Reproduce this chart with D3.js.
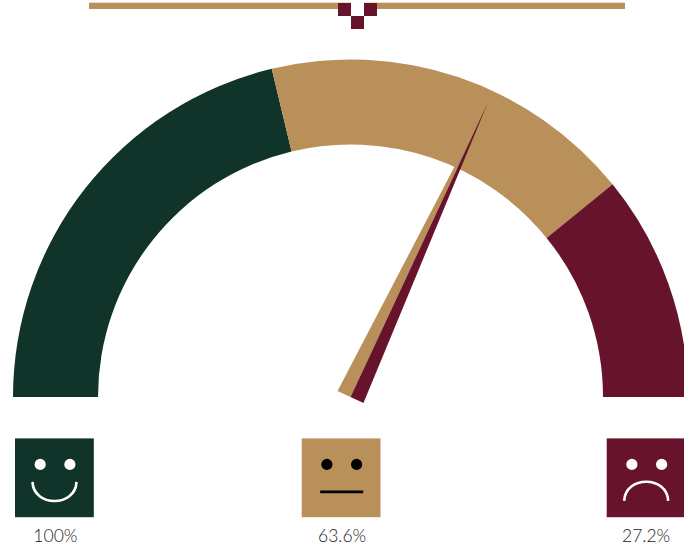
<!DOCTYPE html>
<html><head><meta charset="utf-8">
<script src="https://cdn.jsdelivr.net/npm/d3@7/dist/d3.min.js"></script>
<style>html,body{margin:0;padding:0;background:#fff}svg{display:block}</style>
</head><body><div id="c"></div>
<script>
const bandStops = [0, 42.5, 78.3, 100];
const bandColors = ["#10332a", "#b99059", "#68132c"];
const needleValue = 63.9;
const moods = ["happy", "neutral", "sad"];
const moodLabels = ["100%", "63.6%", "27.2%"];
const moodFills = ["#10332a", "#b99059", "#68132c"];
const moodInk = ["#ffffff", "#000000", "#ffffff"];

const W = 684, H = 547;
const cx = 350.5, cy = 397, rOuter = 337.5, rInner = 252.5;
const svg = d3.select("#c").append("svg").attr("width", W).attr("height", H);

const angle = d3.scaleLinear().domain([0, 100]).range([-Math.PI / 2, Math.PI / 2]);
const arc = d3.arc().innerRadius(rInner).outerRadius(rOuter);
const g = svg.append("g").attr("transform", `translate(${cx},${cy})`);
g.selectAll("path.band").data(bandColors).join("path").attr("class", "band")
  .attr("fill", d => d)
  .attr("d", (d, i) => arc({ startAngle: angle(bandStops[i]), endAngle: angle(bandStops[i + 1]) }));

// needle: two half triangles sharing the centre axis
const a = angle(needleValue), tipR = 325, halfBase = 14.3;
const tip = [tipR * Math.sin(a), -tipR * Math.cos(a)];
const left = [-halfBase * Math.cos(a), -halfBase * Math.sin(a)];
const right = [halfBase * Math.cos(a), halfBase * Math.sin(a)];
const line = d3.line();
g.append("path").attr("fill", bandColors[1]).attr("d", line([left, tip, [0, 0]]) + "Z");
g.append("path").attr("fill", bandColors[2]).attr("d", line([[0, 0], tip, right]) + "Z");

// top track with checker marker
const barX = d3.scaleLinear().domain([0, 100]).range([89, 625]);
svg.append("rect").attr("x", barX(0)).attr("y", 2.7).attr("width", barX(100) - barX(0)).attr("height", 6.3).attr("fill", bandColors[1]);
const cell = 13, mx = 351, my = 3;
svg.append("rect").attr("x", mx).attr("y", 2).attr("width", cell).attr("height", 8).attr("fill", "#fff");
[[-1, 0], [1, 0], [0, 1]].forEach(([i, j]) =>
  svg.append("rect").attr("x", mx + i * cell).attr("y", my + j * cell).attr("width", cell).attr("height", cell).attr("fill", bandColors[2]));

// mood icons
const iconX = [15, 301.7, 606.7], iconY = 438.4, size = 78.8;
moods.forEach((m, i) => {
  const n = svg.append("g").attr("transform", `translate(${iconX[i]},${iconY})`);
  n.append("rect").attr("width", size).attr("height", size).attr("fill", moodFills[i]);
  [25.2, 54.9].forEach(x => n.append("circle").attr("cx", x).attr("cy", 26).attr("r", 5.6).attr("fill", moodInk[i]));
  const mouth = n.append("path").attr("fill", "none").attr("stroke", moodInk[i]);
  if (m === "happy") mouth.attr("stroke-width", 2.6).attr("d", "M17.5 43.5C18.5 69 60.5 69 61.5 43.5");
  if (m === "neutral") mouth.attr("stroke-width", 2.8).attr("d", "M18.5 53.4H61.5");
  if (m === "sad") mouth.attr("stroke-width", 2.6).attr("d", "M17.5 62.5C18.5 37 60.5 37 61.5 62.5");
  svg.append("text").attr("x", iconX[i] + size / 2 + (i === 2 ? 0 : 1)).attr("y", 541.5)
    .attr("text-anchor", "middle").attr("font-family", "Lato").attr("font-weight", 300)
    .attr("font-size", 17.5).attr("fill", "#1a1a1a").text(moodLabels[i]);
});
</script></body></html>
